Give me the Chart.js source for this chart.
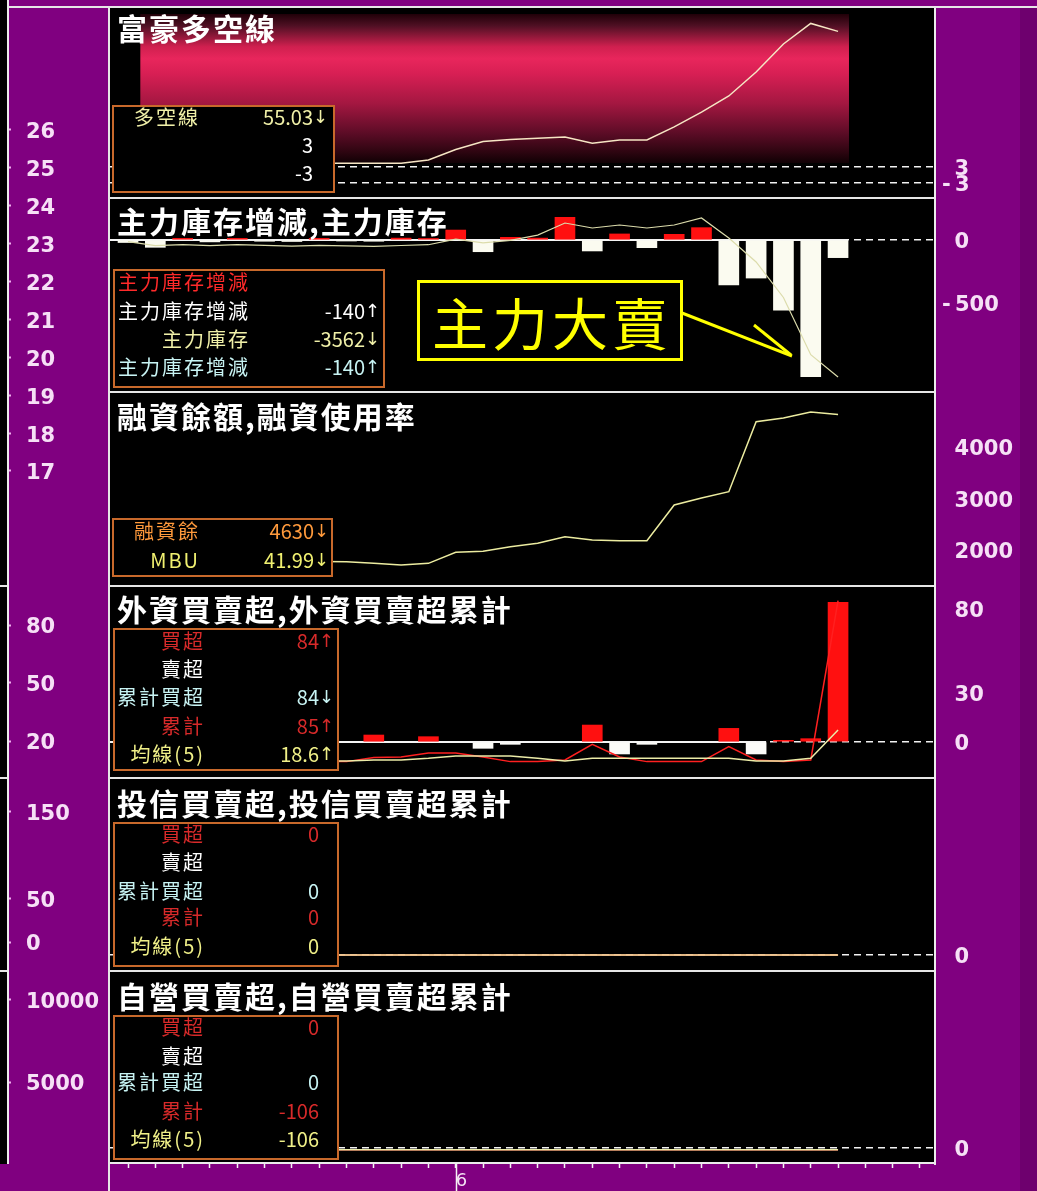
<!DOCTYPE html>
<html>
<head>
<meta charset="utf-8">
<script src="https://cdn.jsdelivr.net/npm/chart.js@4.4.0/dist/chart.umd.min.js"></script>
<style>
html, body { margin: 0; padding: 0; }
body { width: 1037px; height: 1191px; overflow: hidden; position: relative; background: #800080; }
.bg { position: absolute; z-index: 0; }
.line { position: absolute; z-index: 1; background: #e6e6e6; }
.title { position: absolute; left: 117px; z-index: 3; color: #fff; white-space: nowrap;
  font: bold 30px/34px 'Noto Sans CJK TC', sans-serif; letter-spacing: 2px; }
.box { position: absolute; z-index: 3; box-sizing: border-box; border: 2px solid #c8692b; background: #000;
  font: 20px/28px 'Noto Sans CJK TC', sans-serif; }
.row { position: absolute; left: 0; height: 28px; white-space: nowrap; }
.row span { display: inline-block; vertical-align: top; }
.lab { text-align: right; letter-spacing: 2px; }
.val { text-align: right; }
.arr { width: 14px; text-align: center; font-family: 'DejaVu Sans', sans-serif; font-size: 18px; }
.red { color: #ff2a2a; } .dred { color: #d82a2a; } .wht { color: #fff; } .crm { color: #f0f0a8; }
.cyn { color: #c8f4f4; } .yel { color: #f0f088; } .org { color: #ff9a3c; } .mbu { color: #f0f070; }
#note { position: absolute; z-index: 3; left: 417px; top: 280px; width: 266px; height: 81px; box-sizing: border-box;
  border: 3px solid #ffff00; background: #000; color: #ffff00; display: flex; align-items: center; justify-content: center;
  font: 400 56px/1 'Noto Sans CJK TC', sans-serif; letter-spacing: 4px; padding-left: 4px; }
#arrow { position: absolute; z-index: 3; left: 0; top: 0; }
</style>
</head>
<body>
<div class="bg" style="left:110px;top:8px;width:825px;height:1155px;background:#000"></div>
<div class="bg" style="left:0;top:0;width:8px;height:1164px;background:#000"></div>
<div class="bg" style="left:1020px;top:8px;width:17px;height:1183px;background:#6e006e"></div>

<div class="line" style="left:8px;top:6px;width:1029px;height:2px"></div>
<div class="line" style="left:108px;top:6px;width:2px;height:1185px"></div>
<div class="line" style="left:934px;top:6px;width:2px;height:1159px"></div>
<div class="line" style="left:108px;top:197px;width:828px;height:2px"></div>
<div class="line" style="left:108px;top:391px;width:828px;height:2px"></div>
<div class="line" style="left:108px;top:585px;width:828px;height:2px"></div>
<div class="line" style="left:108px;top:777px;width:828px;height:2px"></div>
<div class="line" style="left:108px;top:970px;width:828px;height:2px"></div>
<div class="line" style="left:0;top:585px;width:9px;height:2px"></div>
<div class="line" style="left:0;top:777px;width:9px;height:2px"></div>
<div class="line" style="left:0;top:970px;width:9px;height:2px"></div>

<div class="title" style="top:10px">富豪多空線</div>
<div class="title" style="top:203px">主力庫存增減,主力庫存</div>
<div class="title" style="top:398px">融資餘額,融資使用率</div>
<div class="title" style="top:591px">外資買賣超,外資買賣超累計</div>
<div class="title" style="top:785px">投信買賣超,投信買賣超累計</div>
<div class="title" style="top:978px">自營買賣超,自營買賣超累計</div>

<div class="box" style="left:112px;top:105px;width:223px;height:88px">
  <div class="row crm" style="top:-4px"><span class="lab" style="width:86px">多空線</span><span class="val" style="width:113px">55.03</span><span class="arr">↓</span></div>
  <div class="row wht" style="top:24px"><span class="lab" style="width:86px"></span><span class="val" style="width:113px">3</span></div>
  <div class="row wht" style="top:52px"><span class="lab" style="width:86px"></span><span class="val" style="width:113px">-3</span></div>
</div>

<div class="box" style="left:113px;top:269px;width:272px;height:119px">
  <div class="row red" style="top:-3px"><span class="lab" style="width:135px">主力庫存增減</span></div>
  <div class="row wht" style="top:26px"><span class="lab" style="width:135px">主力庫存增減</span><span class="val" style="width:115px">-140</span><span class="arr">↑</span></div>
  <div class="row crm" style="top:54px"><span class="lab" style="width:135px">主力庫存</span><span class="val" style="width:115px">-3562</span><span class="arr">↓</span></div>
  <div class="row cyn" style="top:82px"><span class="lab" style="width:135px">主力庫存增減</span><span class="val" style="width:115px">-140</span><span class="arr">↑</span></div>
</div>

<div class="box" style="left:112px;top:518px;width:221px;height:59px">
  <div class="row org" style="top:-3px"><span class="lab" style="width:86px">融資餘</span><span class="val" style="width:114px">4630</span><span class="arr">↓</span></div>
  <div class="row mbu" style="top:26px"><span class="lab" style="width:86px">MBU</span><span class="val" style="width:114px">41.99</span><span class="arr">↓</span></div>
</div>

<div class="box" style="left:113px;top:628px;width:226px;height:143px">
  <div class="row dred" style="top:-3px"><span class="lab" style="width:90px">買超</span><span class="val" style="width:114px">84</span><span class="arr">↑</span></div>
  <div class="row wht" style="top:25px"><span class="lab" style="width:90px">賣超</span></div>
  <div class="row cyn" style="top:53px"><span class="lab" style="width:90px">累計買超</span><span class="val" style="width:114px">84</span><span class="arr">↓</span></div>
  <div class="row dred" style="top:82px"><span class="lab" style="width:90px">累計</span><span class="val" style="width:114px">85</span><span class="arr">↑</span></div>
  <div class="row yel" style="top:110px"><span class="lab" style="width:90px">均線(5)</span><span class="val" style="width:114px">18.6</span><span class="arr">↑</span></div>
</div>

<div class="box" style="left:113px;top:822px;width:226px;height:145px">
  <div class="row dred" style="top:-4px"><span class="lab" style="width:90px">買超</span><span class="val" style="width:114px">0</span></div>
  <div class="row wht" style="top:24px"><span class="lab" style="width:90px">賣超</span></div>
  <div class="row cyn" style="top:53px"><span class="lab" style="width:90px">累計買超</span><span class="val" style="width:114px">0</span></div>
  <div class="row dred" style="top:79px"><span class="lab" style="width:90px">累計</span><span class="val" style="width:114px">0</span></div>
  <div class="row yel" style="top:108px"><span class="lab" style="width:90px">均線(5)</span><span class="val" style="width:114px">0</span></div>
</div>

<div class="box" style="left:113px;top:1015px;width:226px;height:145px">
  <div class="row dred" style="top:-4px"><span class="lab" style="width:90px">買超</span><span class="val" style="width:114px">0</span></div>
  <div class="row wht" style="top:25px"><span class="lab" style="width:90px">賣超</span></div>
  <div class="row cyn" style="top:51px"><span class="lab" style="width:90px">累計買超</span><span class="val" style="width:114px">0</span></div>
  <div class="row dred" style="top:80px"><span class="lab" style="width:90px">累計</span><span class="val" style="width:114px">-106</span></div>
  <div class="row yel" style="top:108px"><span class="lab" style="width:90px">均線(5)</span><span class="val" style="width:114px">-106</span></div>
</div>

<div id="note">主力大賣</div>
<svg id="arrow" width="1037" height="1191">
  <line x1="682" y1="313" x2="792" y2="356" stroke="#ffff00" stroke-width="3"/>
  <line x1="754" y1="325" x2="791" y2="355" stroke="#ffff00" stroke-width="3"/>
</svg>

<script>
// 27 trading days, index 0..26; index 12 starts the month "6"
const xTickLabels = ['', '', '', '', '', '', '', '', '', '', '', '', '6', '', '', '',
  '', '', '', '', '', '', '', '', '', '', '', '', '', ''];

// 富豪多空線
const bullBear = [4.5, 4.6, 4.4, 4.5, 4.3, 4.4, 4.3, 4.3, 4.3, 4.3, 4.3, 5.6, 9.6, 12.7,
  13.5, 13.9, 14.4, 12.0, 13.3, 13.3, 18.3, 24.0, 30.2, 39.4, 50.2, 58.1, 55.03];

// 主力庫存增減 (bars) and 主力庫存 (line)
const mainChange = [-20, -58, 13, -15, 13, -10, -12, 13, -8, -10, 15, 12, 79, -93,
  21, 15, 180, -87, 48, -61, 45, 98, -357, -302, -556, -1085, -140];
const mainStock = [-1480, -1540, -1525, -1540, -1527, -1537, -1549, -1536, -1544, -1554,
  -1539, -1527, -1440, -1500, -1460, -1380, -1193, -1270, -1224, -1270, -1224, -1116,
  -1424, -1793, -2339, -3219, -3562];

// 融資餘額
const marginBal = [1790, 1785, 1780, 1776, 1780, 1775, 1772, 1775, 1773, 1741, 1708,
  1741, 1955, 1974, 2064, 2130, 2258, 2194, 2180, 2180, 2874, 3010, 3132, 4491, 4563,
  4680, 4630];

// 外資
const foreignBuy = [2, null, 1, null, 3, null, null, 1, null, 4.2, null, 3.2, null, null,
  null, null, null, 10.2, null, null, null, null, 8.2, null, 1, 2, 84];
const foreignSell = [null, -1, null, -2, null, -1, -3, null, null, null, null, null, null,
  -3.8, -1.4, null, null, null, -7.2, -1.4, null, null, null, -7.2, null, null, null];
const foreignCum = [-10.8, -11.8, -11.8, -11.8, -10.8, -11.8, -11.8, -11.8, -11.8, -9.3,
  -9, -6.6, -6.6, -9, -11.8, -11.8, -10.8, -1.4, -9, -11.8, -11.8, -11.8, -2.8, -10.8,
  -11.8, -10.8, 85];
const foreignMA = [-11.4, -11.4, -10.8, -10.8, -11.4, -11.4, -11.4, -11.4, -11.4, -10.8,
  -10.8, -9.8, -8.4, -8.4, -8.4, -9.8, -11.4, -9.8, -9.8, -9.8, -9.8, -9.8, -9.8, -11.4,
  -11.4, -9.8, 7.2];

// 投信
const trustCum = [0, 0, 0, 0, 0, 0, 0, 0, 0, 0, 0, 0, 0, 0, 0, 0, 0, 0, 0, 0, 0, 0, 0, 0, 0, 0, 0];
const trustMA = [0, 0, 0, 0, 0, 0, 0, 0, 0, 0, 0, 0, 0, 0, 0, 0, 0, 0, 0, 0, 0, 0, 0, 0, 0, 0, 0];

// 自營
const dealerCum = [-106, -106, -106, -106, -106, -106, -106, -106, -106, -106, -106, -106,
  -106, -106, -106, -106, -106, -106, -106, -106, -106, -106, -106, -106, -106, -106, -106];
const dealerMA = [-106, -106, -106, -106, -106, -106, -106, -106, -106, -106, -106, -106,
  -106, -106, -106, -106, -106, -106, -106, -106, -106, -106, -106, -106, -106, -106, -106];

// axis tick labels
const leftTicksA = [26, 25, 24, 23, 22, 21, 20, 19, 18, 17];
const leftTicksB = [80, 50, 20];
const leftTicksC = [150, 50, 0];
const leftTicksD = [10000, 5000];
const rightTicks1 = [3, -3];
const rightTicks2 = [0, -500];
const rightTicks3 = [4000, 3000, 2000];
const rightTicks4 = [80, 30, 0];
const rightTicks5 = [0];
const rightTicks6 = [0];

// ---- layout ----
const tops = [8, 198, 392, 586, 778, 971, 1163];
const X_MIN = -0.66, X_MAX = 29.55;

Chart.defaults.font.family = "'DejaVu Sans', sans-serif";

const pts = arr => arr.map((v, i) => ({ x: i, y: v }));

// axis window from two calibration points (value, pixel) and the plot top/bottom
function span(v1, y1, v2, y2, top, bottom) {
  const k = (y2 - y1) / (v1 - v2);
  return { max: v1 + (y1 - top) / k, min: v1 - (bottom - y1) / k };
}

function makeCanvas(left, top, w, h) {
  const c = document.createElement('canvas');
  c.width = w; c.height = h;
  c.style.cssText = 'position:absolute;z-index:2;left:' + left + 'px;top:' + top + 'px';
  document.body.appendChild(c);
  return c;
}

const baseOpts = (scales) => ({
  responsive: false, animation: false, layout: { padding: 0 },
  plugins: { legend: { display: false }, tooltip: { enabled: false } },
  scales
});

const hiddenX = { type: 'linear', min: X_MIN, max: X_MAX, display: false, offset: false };

function rightAxis(range, ticks, dashed) {
  return {
    position: 'right', min: range.min, max: range.max,
    afterBuildTicks: s => { s.ticks = ticks.map(v => ({ value: v })); },
    afterFit: s => { s.width = 102; s.paddingTop = 0; s.paddingBottom = 0; },
    border: { display: true, color: '#ececec', width: 2, dash: [7, 5] },
    grid: {
      drawTicks: false, lineWidth: 1.5,
      color: c => (c.tick && dashed.includes(c.tick.value)) ? '#f2f2f2' : 'rgba(0,0,0,0)'
    },
    ticks: {
      autoSkip: false, padding: 7, labelOffset: 3, color: '#f6e0f6', font: { size: 21, weight: 'bold' },
      callback: v => v < 0 ? '-\u2009' + (-v) : '\u2002\u200a' + v
    }
  };
}

function leftAxisChart(top, bottom, ticks, range) {
  new Chart(makeCanvas(0, top, 110, bottom - top), {
    type: 'line',
    data: { datasets: [] },
    options: baseOpts({
      x: { display: false },
      y: {
        position: 'right', min: range.min, max: range.max,
        afterBuildTicks: s => { s.ticks = ticks.map(v => ({ value: v })); },
        afterFit: s => { s.width = 102; s.paddingTop = 0; s.paddingBottom = 0; },
        border: { display: true, color: '#ececec', width: 2 },
        grid: { drawOnChartArea: false, drawTicks: true, tickLength: 3, tickWidth: 2, tickColor: '#f0b0f0' },
        ticks: { autoSkip: false, padding: 15, labelOffset: 3, color: '#f6e0f6', font: { size: 21, weight: 'bold' },
          callback: v => String(v) }
      }
    })
  });
}

const lineDs = (data, color, width, axis) => ({
  type: 'line', data: pts(data), borderColor: color, borderWidth: width,
  pointRadius: 0, tension: 0, fill: false, yAxisID: axis || 'y'
});

// solid zero line up to the right edge of the last bar of a dataset
function baseline(dsIndex) {
  return {
    id: 'baseline',
    beforeDatasetsDraw(chart) {
      const data = chart.data.datasets[dsIndex].data;
      let last = -1;
      data.forEach((d, i) => { if (d.y !== null) last = i; });
      const el = chart.getDatasetMeta(dsIndex).data[last];
      const { ctx, chartArea: a } = chart;
      const y = chart.scales.y.getPixelForValue(0);
      ctx.save();
      ctx.strokeStyle = '#f4f4f4'; ctx.lineWidth = 2;
      ctx.beginPath(); ctx.moveTo(a.left, y); ctx.lineTo(el.x + el.width / 2, y); ctx.stroke();
      ctx.restore();
    }
  };
}

// ---- left column axes ----
leftAxisChart(0, 586, leftTicksA, span(26, 130, 17, 471, 0, 586));
leftAxisChart(586, 778, leftTicksB, span(80, 625, 20, 741, 586, 778));
leftAxisChart(778, 971, leftTicksC, span(150, 812, 0, 942, 778, 971));
leftAxisChart(971, 1164, leftTicksD, span(10000, 1000, 5000, 1082, 971, 1164));

// ---- panel 1: 富豪多空線 ----
const bandPlugin = {
  id: 'band',
  beforeDatasetsDraw(chart) {
    const { ctx, chartArea: a, scales: { x } } = chart;
    const x0 = x.getPixelForValue(0.45), x1 = x.getPixelForValue(bullBear.length - 1 + 0.4);
    const y0 = a.top + 6, y1 = a.top + 155;
    const g = ctx.createLinearGradient(0, y0, 0, y1);
    g.addColorStop(0, '#200008');
    g.addColorStop(0.08, '#501024');
    g.addColorStop(0.22, '#d0204f');
    g.addColorStop(0.3, '#e8265c');
    g.addColorStop(0.4, '#d81f54');
    g.addColorStop(0.6, '#a41741');
    g.addColorStop(0.8, '#5c0c26');
    g.addColorStop(0.93, '#2c0510');
    g.addColorStop(1, '#100004');
    ctx.save(); ctx.fillStyle = g; ctx.fillRect(x0, y0, x1 - x0, y1 - y0); ctx.restore();
  }
};
new Chart(makeCanvas(110, tops[0], 927, tops[1] - tops[0]), {
  type: 'bar',
  data: { datasets: [lineDs(bullBear, '#f6e6c4', 1.5)] },
  options: baseOpts({ x: hiddenX, y: rightAxis(span(3, 166.7, 55.03, 31.4, tops[0], tops[1]), rightTicks1, rightTicks1) }),
  plugins: [bandPlugin]
});

// ---- panel 2: 主力庫存增減, 主力庫存 ----
new Chart(makeCanvas(110, tops[1], 927, tops[2] - tops[1]), {
  type: 'bar',
  data: {
    datasets: [
      lineDs(mainStock, '#dcdcac', 1.2, 'y2'),
      {
        data: pts(mainChange), barThickness: 20,
        backgroundColor: c => (c.raw && c.raw.y >= 0) ? '#ff1010' : '#fbfbf0'
      }
    ]
  },
  options: baseOpts({
    x: hiddenX,
    y: rightAxis(span(0, 240, -500, 303, tops[1], tops[2]), rightTicks2, [0]),
    y2: Object.assign({ display: false }, span(-3562, 377, -1116, 218, tops[1], tops[2]))
  }),
  plugins: [baseline(1)]
});

// ---- panel 3: 融資餘額 ----
new Chart(makeCanvas(110, tops[2], 927, tops[3] - tops[2]), {
  type: 'bar',
  data: { datasets: [lineDs(marginBal, '#ececa0', 1.5)] },
  options: baseOpts({ x: hiddenX, y: rightAxis(span(4000, 447, 2000, 550, tops[2], tops[3]), rightTicks3, []) })
});

// ---- panel 4: 外資 ----
new Chart(makeCanvas(110, tops[3], 927, tops[4] - tops[3]), {
  type: 'bar',
  data: {
    datasets: [
      lineDs(foreignMA, '#ececa8', 1.5),
      lineDs(foreignCum, '#ff2020', 1.5),
      { data: pts(foreignBuy), barThickness: 20, grouped: false, backgroundColor: '#ff1010' },
      { data: pts(foreignSell), barThickness: 20, grouped: false, backgroundColor: '#fbfbf8' }
    ]
  },
  options: baseOpts({ x: hiddenX, y: rightAxis(span(80, 609, 0, 742, tops[3], tops[4]), rightTicks4, [0]) }),
  plugins: [baseline(3)]
});

// ---- panel 5: 投信 ----
new Chart(makeCanvas(110, tops[4], 927, tops[5] - tops[4]), {
  type: 'bar',
  data: { datasets: [lineDs(trustMA, '#ececa8', 1.5), lineDs(trustCum, '#ff2020', 1.5)] },
  options: baseOpts({ x: hiddenX, y: rightAxis(span(0, 955, 150, 825, tops[4], tops[5]), rightTicks5, [0]) })
});

// ---- panel 6: 自營 + date axis ----
const monthLine = {
  id: 'month',
  afterDraw(chart) {
    const { ctx, scales: { x }, chartArea: a } = chart;
    const i = xTickLabels.findIndex(l => l !== '');
    const px = Math.round(x.getPixelForValue(i)) + 0.5;
    ctx.save();
    ctx.strokeStyle = '#f4f4f4'; ctx.lineWidth = 1.5;
    ctx.beginPath(); ctx.moveTo(px, a.bottom); ctx.lineTo(px, chart.height); ctx.stroke();
    ctx.restore();
  }
};
new Chart(makeCanvas(110, tops[5], 927, 1191 - tops[5]), {
  type: 'bar',
  data: { datasets: [lineDs(dealerMA, '#ececa8', 1.5), lineDs(dealerCum, '#ff2020', 1.5)] },
  options: baseOpts({
    x: {
      type: 'linear', min: X_MIN, max: X_MAX, offset: false, position: 'bottom',
      afterBuildTicks: s => { s.ticks = xTickLabels.map((_, i) => ({ value: i })); },
      afterFit: s => { s.height = 28; s.paddingLeft = 0; s.paddingRight = 0; },
      border: { display: true, color: '#ececec', width: 2 },
      grid: { drawOnChartArea: false, drawTicks: true, tickLength: 5, tickWidth: 1.5, tickColor: '#f4f4f4', offset: false },
      ticks: { autoSkip: false, maxRotation: 0, align: 'start', padding: 3, color: '#f4e4f4', font: { size: 18 },
        callback: v => xTickLabels[v] }
    },
    y: rightAxis(span(0, 1148, 5000, 1066, tops[5], tops[6]), rightTicks6, [0])
  }),
  plugins: [monthLine]
});
</script>
</body>
</html>
